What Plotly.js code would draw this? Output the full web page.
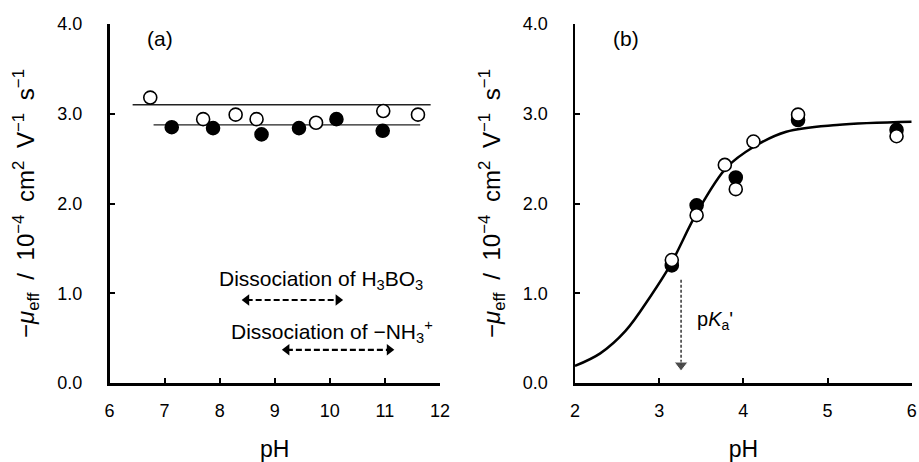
<!DOCTYPE html>
<html>
<head>
<meta charset="utf-8">
<script src="https://cdn.plot.ly/plotly-3.0.1.min.js"></script>
<style>html,body{margin:0;padding:0;background:#fff}#chart{width:919px;height:462px}</style>
</head>
<body>
<div id="chart"></div>
<script>
// Panel (a): pH vs -mu_eff
const aOpenPH  = [6.74, 7.70, 8.29, 8.67, 9.75, 10.97, 11.60];
const aOpenMu  = [3.18, 2.94, 2.99, 2.94, 2.90, 3.03, 2.99];
const aFillPH  = [7.13, 7.88, 8.76, 9.44, 10.12, 10.96];
const aFillMu  = [2.85, 2.84, 2.77, 2.84, 2.94, 2.81];
const aOpenAvgPH = [6.42, 11.83];
const aOpenAvgMu = [3.10, 3.10];
const aFillAvgPH = [6.80, 11.64];
const aFillAvgMu = [2.875, 2.875];
// dissociation ranges (pH)
const boricRangePH = [8.49, 10.15];
const boricRangeY  = [0.925, 0.925];
const amineRangePH = [9.22, 11.08];
const amineRangeY  = [0.37, 0.37];

// Panel (b)
const bFillPH = [3.15, 3.445, 3.91, 4.65, 5.82];
const bFillMu = [1.31, 1.98, 2.29, 2.93, 2.82];
const bOpenPH = [3.15, 3.445, 3.78, 3.91, 4.12, 4.65, 5.82];
const bOpenMu = [1.37, 1.87, 2.43, 2.16, 2.69, 2.99, 2.75];
// fitted curve
const curvePH = [2.00, 2.30, 2.60, 2.90, 3.13, 3.45, 3.80, 4.12, 4.51, 5.11, 6.00];
const curveMu = [0.19, 0.33, 0.58, 0.97, 1.31, 1.90, 2.40, 2.63, 2.80, 2.875, 2.91];
// pKa' marker
const pKaPH = [3.26, 3.26];
const pKaY  = [1.15, 0.20];

const FONT = 'Liberation Sans, Arial, sans-serif';
const openMarker = {symbol: 'circle', size: 13, color: '#ffffff', line: {color: '#000000', width: 1.6}};
const fillMarker = {symbol: 'circle', size: 13, color: '#000000', line: {color: '#000000', width: 1.6}};

const traces = [
  {x: aOpenAvgPH, y: aOpenAvgMu, mode: 'lines', line: {color: '#222', width: 1.3}, xaxis: 'x', yaxis: 'y', hoverinfo: 'skip'},
  {x: aFillAvgPH, y: aFillAvgMu, mode: 'lines', line: {color: '#222', width: 1.3}, xaxis: 'x', yaxis: 'y', hoverinfo: 'skip'},
  {x: aOpenPH, y: aOpenMu, mode: 'markers', marker: openMarker, xaxis: 'x', yaxis: 'y'},
  {x: aFillPH, y: aFillMu, mode: 'markers', marker: fillMarker, xaxis: 'x', yaxis: 'y'},
  {x: boricRangePH, y: boricRangeY, mode: 'lines+markers', line: {color: '#000', width: 2.2, dash: '6px,3px'},
   marker: {symbol: ['triangle-left', 'triangle-right'], size: 10, color: '#000'}, xaxis: 'x', yaxis: 'y', hoverinfo: 'skip'},
  {x: amineRangePH, y: amineRangeY, mode: 'lines+markers', line: {color: '#000', width: 2.2, dash: '6px,3px'},
   marker: {symbol: ['triangle-left', 'triangle-right'], size: 10, color: '#000'}, xaxis: 'x', yaxis: 'y', hoverinfo: 'skip'},

  {x: curvePH, y: curveMu, mode: 'lines', line: {color: '#000', width: 2.5, shape: 'spline', smoothing: 1}, xaxis: 'x2', yaxis: 'y2', hoverinfo: 'skip'},
  {x: bFillPH, y: bFillMu, mode: 'markers', marker: fillMarker, xaxis: 'x2', yaxis: 'y2'},
  {x: bOpenPH, y: bOpenMu, mode: 'markers', marker: openMarker, xaxis: 'x2', yaxis: 'y2'},
  {x: pKaPH, y: pKaY, mode: 'lines+markers', line: {color: '#000', width: 1.2, dash: '3px,2px'},
   marker: {symbol: ['circle', 'triangle-down'], size: [0, 12], color: '#000'}, xaxis: 'x2', yaxis: 'y2', hoverinfo: 'skip'}
];

const SP = '\u2005 ';
const yTitle = '\u2212<i>\u03bc</i><sub>eff</sub>' + SP + '/' + SP + '10<sup>\u22124</sup>' + SP + 'cm<sup>2</sup>' + SP + 'V<sup>\u22121</sup>' + SP + 's<sup>\u22121</sup>';

function xAx(domain, range, anchor) {
  return {domain: domain, range: range, anchor: anchor, dtick: 1, tick0: 0,
    showline: true, linecolor: '#000', linewidth: 2.5, ticks: 'inside', ticklen: 5, tickwidth: 2, tickcolor: '#000',
    showgrid: false, zeroline: false, automargin: false, ticklabelstandoff: 10,
    tickfont: {family: FONT, size: 18, color: '#000'},
    title: {text: 'pH', font: {family: FONT, size: 23, color: '#000'}, standoff: 26}};
}
function yAx(domain, anchor) {
  return {domain: domain, range: [0, 4], anchor: anchor, dtick: 1, tick0: 0, tickformat: '.1f',
    showline: true, linecolor: '#000', linewidth: 2.5, ticks: 'inside', ticklen: 5, tickwidth: 2, tickcolor: '#000',
    showgrid: false, zeroline: false, automargin: false, ticklabelstandoff: 21,
    tickfont: {family: FONT, size: 18, color: '#000'},
    title: {text: yTitle, font: {family: FONT, size: 24, color: '#000'}, standoff: 16}};
}

const yDom = [79/462, 438/462];
const layout = {
  width: 919, height: 462,
  margin: {l: 0, r: 0, t: 0, b: 0},
  paper_bgcolor: '#fff', plot_bgcolor: '#fff',
  showlegend: false,
  font: {family: FONT, color: '#000'},
  xaxis: xAx([109.5/919, 440/919], [6, 12], 'y'),
  yaxis: yAx(yDom, 'x'),
  xaxis2: xAx([575/919, 911.7/919], [2, 6], 'y2'),
  yaxis2: yAx(yDom, 'x2'),
  annotations: [
    {xref: 'x', yref: 'y', x: 6.92, y: 3.84, text: '(a)', showarrow: false, font: {family: FONT, size: 21}},
    {xref: 'x2', yref: 'y2', x: 2.61, y: 3.84, text: '(b)', showarrow: false, font: {family: FONT, size: 21}},
    {xref: 'x', yref: 'y', x: 7.95, y: 1.15, xanchor: 'left', text: 'Dissociation of H<sub>3</sub>BO<sub>3</sub>', showarrow: false, font: {family: FONT, size: 21}},
    {xref: 'x', yref: 'y', x: 8.17, y: 0.57, xanchor: 'left', text: 'Dissociation of \u2212NH<sub>3</sub><sup>+</sup>', showarrow: false, font: {family: FONT, size: 21}},
    {xref: 'x2', yref: 'y2', x: 3.42, y: 0.70, xanchor: 'left', text: 'p<i>K</i><sub>a</sub>\'', showarrow: false, font: {family: FONT, size: 20}}
  ]
};

Plotly.newPlot('chart', traces, layout, {displayModeBar: false, staticPlot: true});
</script>
</body>
</html>
